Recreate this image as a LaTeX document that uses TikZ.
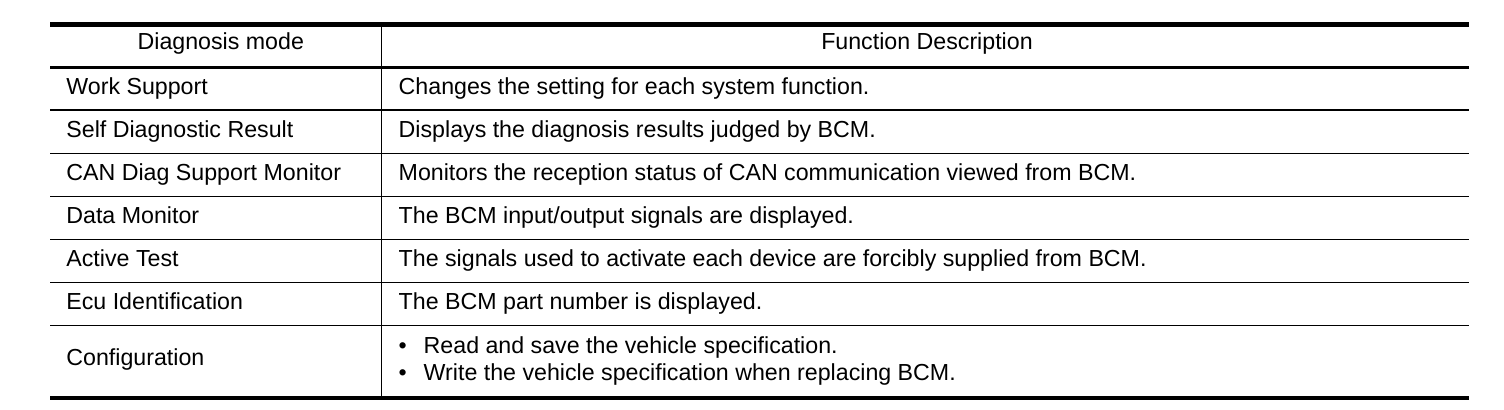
\documentclass[tikz,border=0pt]{standalone}
\usepackage{fontspec}
\setmainfont{Liberation Sans}
\def\mleft{50}
\def\mmid{381.7}
\def\mright{1469}
\def\mtextl{66}
\def\mtextr{398.3}
\def\mitem{423.3}
\tikzset{
	cell/.style={anchor=base west, inner sep=0pt, font=\fontsize{11.6}{13.9}\selectfont},
	head/.style={cell, anchor=base},
	heavy rule/.style={line width=2.15pt},
	mid rule/.style={line width=1.5pt},
	thin rule/.style={line width=0.65pt},
}

\begin{document}
\begin{tikzpicture}[x=0.5pt, y=-0.5pt]
		\useasboundingbox (0,0) rectangle (1504,410);
		% Rules
		\draw[heavy rule] (\mleft,24.5) -- (\mright,24.5);
		\draw[mid rule] (\mleft,67.5) -- (\mright,67.5);
		\draw[thin rule] (\mleft,110) -- (\mright,110);
		\draw[thin rule] (\mleft,153.3) -- (\mright,153.3);
		\draw[thin rule] (\mleft,196.3) -- (\mright,196.3);
		\draw[thin rule] (\mleft,239.3) -- (\mright,239.3);
		\draw[thin rule] (\mleft,282.3) -- (\mright,282.3);
		\draw[thin rule] (\mleft,325.3) -- (\mright,325.3);
		\draw[heavy rule] (\mleft,398) -- (\mright,398);
		\draw[thin rule] (\mmid,24.5) -- (\mmid,398);
		% Header
		\node[head] (modehead) at (220.8,49.3) {Diagnosis mode};
		\node[head] (funchead) at (927,49.3) {Function Description};
		% Rows
		\node[cell] (worksup) at (\mtextl,94.3) {Work Support};
		\node[cell] (worksupd) at (\mtextr,94.3) {Changes the setting for each system function.};
		\node[cell] (selfdiag) at (\mtextl,137.2) {Self Diagnostic Result};
		\node[cell] (selfdiagd) at (\mtextr,137.2) {Displays the diagnosis results judged by BCM.};
		\node[cell] (candiag) at (\mtextl,180.3) {CAN Diag Support Monitor};
		\node[cell] (candiagd) at (\mtextr,180.3) {Monitors the reception status of CAN communication viewed from BCM.};
		\node[cell] (datamon) at (\mtextl,223.3) {Data Monitor};
		\node[cell] (datamond) at (\mtextr,223.3) {The BCM input/output signals are displayed.};
		\node[cell] (acttest) at (\mtextl,266.3) {Active Test};
		\node[cell] (acttestd) at (\mtextr,266.3) {The signals used to activate each device are forcibly supplied from BCM.};
		\node[cell] (ecuid) at (\mtextl,309.3) {Ecu Identification};
		\node[cell] (ecuidd) at (\mtextr,309.3) {The BCM part number is displayed.};
		\node[cell] (config) at (\mtextl,366) {Configuration};
		\node[cell] (bulleta) at (\mtextr,353.3) {•};
		\node[cell] (configa) at (\mitem,353.3) {Read and save the vehicle specification.};
		\node[cell] (bulletb) at (\mtextr,380.7) {•};
		\node[cell] (configb) at (\mitem,380.7) {Write the vehicle specification when replacing BCM.};
		% Outer Bounding box
		% \draw[draw=black] (0,0) rectangle (1504,410);
	\end{tikzpicture}
\end{document}
